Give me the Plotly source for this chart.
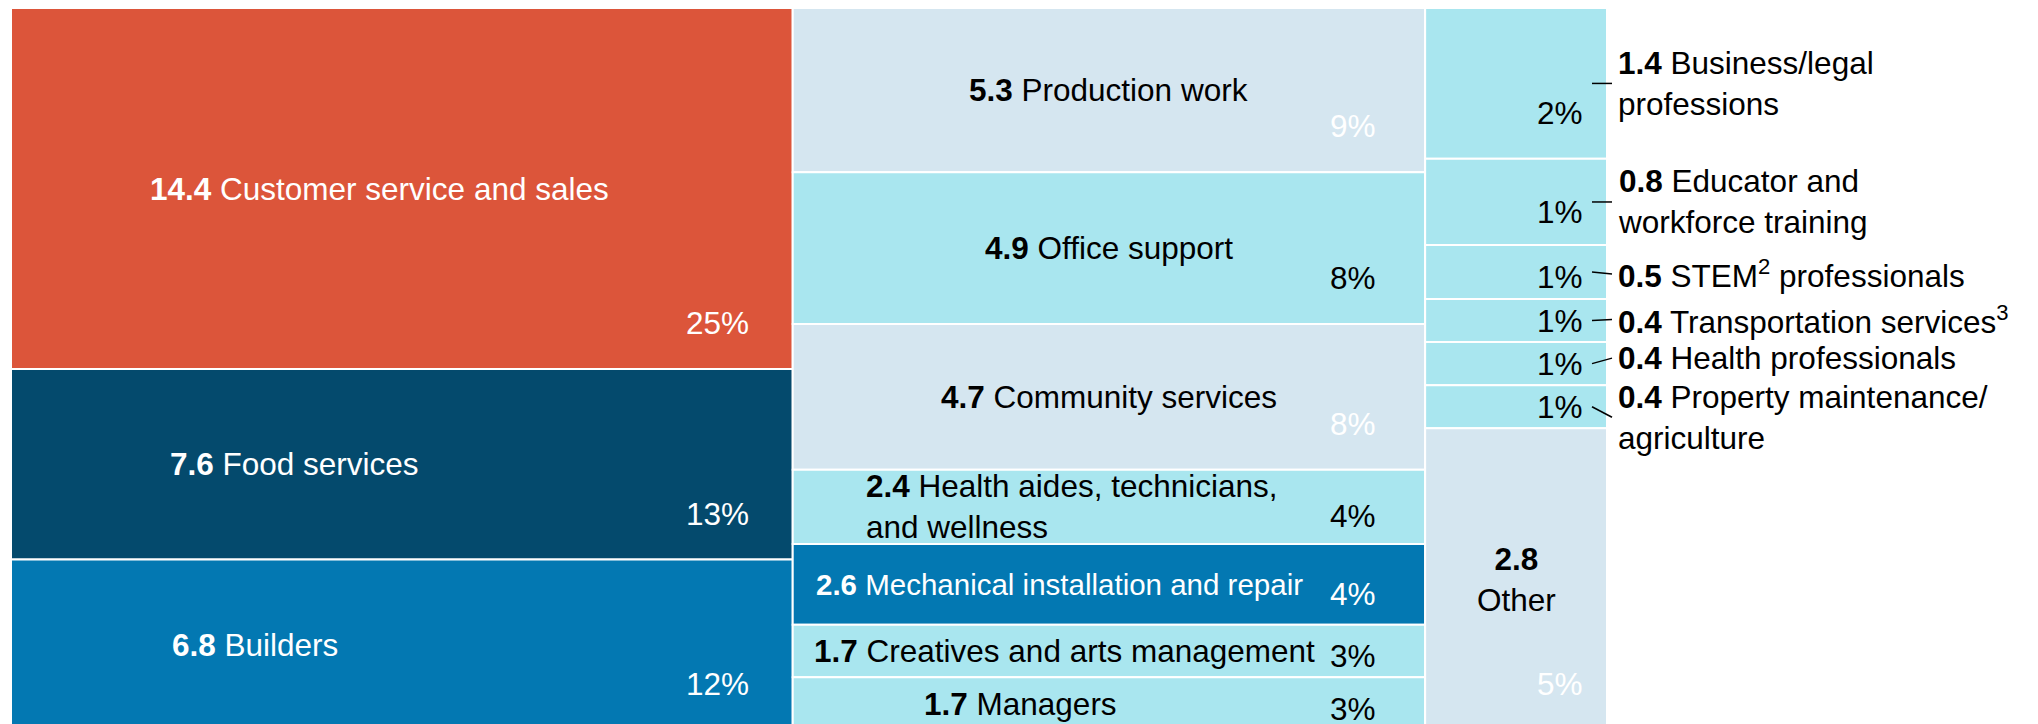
import plotly.graph_objects as go

# one entry per tile, column by column, top to bottom
categories = ['Customer service and sales', 'Food services', 'Builders',
              'Production work', 'Office support', 'Community services',
              'Health aides, technicians,<br>and wellness',
              'Mechanical installation and repair',
              'Creatives and arts management', 'Managers',
              'Business/legal<br>professions', 'Educator and<br>workforce training',
              'STEM<sup>2</sup> professionals', 'Transportation services<sup>3</sup>',
              'Health professionals', 'Property maintenance/<br>agriculture',
              'Other']
values = [14.4, 7.6, 6.8,
          5.3, 4.9, 4.7, 2.4, 2.6, 1.7, 1.7,
          1.4, 0.8, 0.5, 0.4, 0.4, 0.4, 2.8]
shares = [25, 13, 12,
          9, 8, 8, 4, 4, 3, 3,
          2, 1, 1, 1, 1, 1, 5]
column = [0, 0, 0,
          1, 1, 1, 1, 1, 1, 1,
          2, 2, 2, 2, 2, 2, 2]

# styles
RED, NAVY, BLUE, GREY, CYAN = '#dc553a', '#044a6d', '#0378b2', '#d5e6f0', '#a9e6ef'
tile_colors = [RED, NAVY, BLUE,
               GREY, CYAN, GREY, CYAN, BLUE, CYAN, CYAN,
               CYAN, CYAN, CYAN, CYAN, CYAN, CYAN, GREY]
label_dx = [-22, -107, -147,
            0, 0, 0, -37, -49, -44, -88,
            0, 0, 0, 0, 0, 0, 0]          # px from tile centre
label_fs = [31.5] * 7 + [29.5] + [31.5] * 9
outside = [False] * 10 + [True] * 6 + [False]
outside_dy = [0] * 10 + [0, 0, 2, -1, -5.5, 10.5] + [0]   # px, down
pct_right = [42, 47, 22]                  # px from column right edge
FONT = 'Liberation Sans, Arial, sans-serif'
FS = 31.5

W, H = 2038, 722
ML, MR, MT, MB = 3, 439, 0, 0
plot_w = W - ML - MR
plot_h = H - MT - MB

# column geometry
n_cols = max(column) + 1
col_total = [sum(v for v, c in zip(values, column) if c == k) for k in range(n_cols)]
col_left = [sum(col_total[:k]) for k in range(n_cols)]
grand = sum(col_total)

xs, ws, bases, ys = [], [], [], []
running = [0.0] * n_cols
for v, c in zip(values, column):
    frac = v / col_total[c]
    xs.append(col_left[c] + col_total[c] / 2)
    ws.append(col_total[c])
    bases.append(running[c])
    ys.append(frac)
    running[c] += frac


def px_y(p):
    return p / plot_h


fig = go.Figure()
fig.add_trace(go.Bar(x=xs, y=ys, base=bases, width=ws,
                     marker=dict(color=tile_colors, line=dict(color='white', width=2)),
                     hoverinfo='skip', showlegend=False))

dark = (RED, NAVY, BLUE)
annotations = []
shapes = []
for i, (name, v, s, c) in enumerate(zip(categories, values, shares, column)):
    top = bases[i]
    bottom = bases[i] + ys[i]
    mid = (top + bottom) / 2
    right = col_left[c] + col_total[c]
    lab_col = 'white' if tile_colors[i] in dark else 'black'
    pct_col = 'black' if tile_colors[i] == CYAN else 'white'

    if name == 'Other':
        text = '<b>{}</b><br>{}'.format(v, name)
        align = 'center'
    else:
        text = '<b>{}</b> {}'.format(v, name)
        align = 'left'

    if outside[i]:
        ly = mid + px_y(outside_dy[i])
        annotations.append(dict(x=right, y=ly, xref='x', yref='y', text=text,
                                xanchor='left', yanchor='middle', align='left',
                                xshift=9, showarrow=False,
                                font=dict(size=FS, color='black', family=FONT)))
        # leader line, x in paper units so the part outside the plot is not clipped
        xr = right / grand
        shapes.append(dict(type='line', xref='paper', yref='y',
                           x0=xr - 15 / plot_w, y0=mid, x1=xr + 5 / plot_w, y1=ly,
                           line=dict(color='black', width=1.5)))
    else:
        annotations.append(dict(x=xs[i], y=mid, xref='x', yref='y', text=text,
                                xanchor='center', yanchor='middle', align=align,
                                xshift=label_dx[i], showarrow=False,
                                font=dict(size=label_fs[i], color=lab_col, family=FONT)))

    h_px = ys[i] * plot_h
    up = min(46, max(21.5, 0.38 * h_px))
    annotations.append(dict(x=right, y=bottom, xref='x', yref='y', text='{}%'.format(s),
                            xanchor='right', yanchor='middle', xshift=-pct_right[c],
                            yshift=up, showarrow=False,
                            font=dict(size=FS, color=pct_col, family=FONT)))

fig.update_layout(width=W, height=H, barmode='overlay',
                  margin=dict(l=ML, r=MR, t=MT, b=MB),
                  plot_bgcolor='white', paper_bgcolor='white',
                  annotations=annotations, shapes=shapes,
                  font=dict(family=FONT, size=FS, color='black'))
fig.update_xaxes(range=[0, grand], visible=False, fixedrange=True)
fig.update_yaxes(range=[1, 0], visible=False, fixedrange=True)

fig.write_html("out.html")
